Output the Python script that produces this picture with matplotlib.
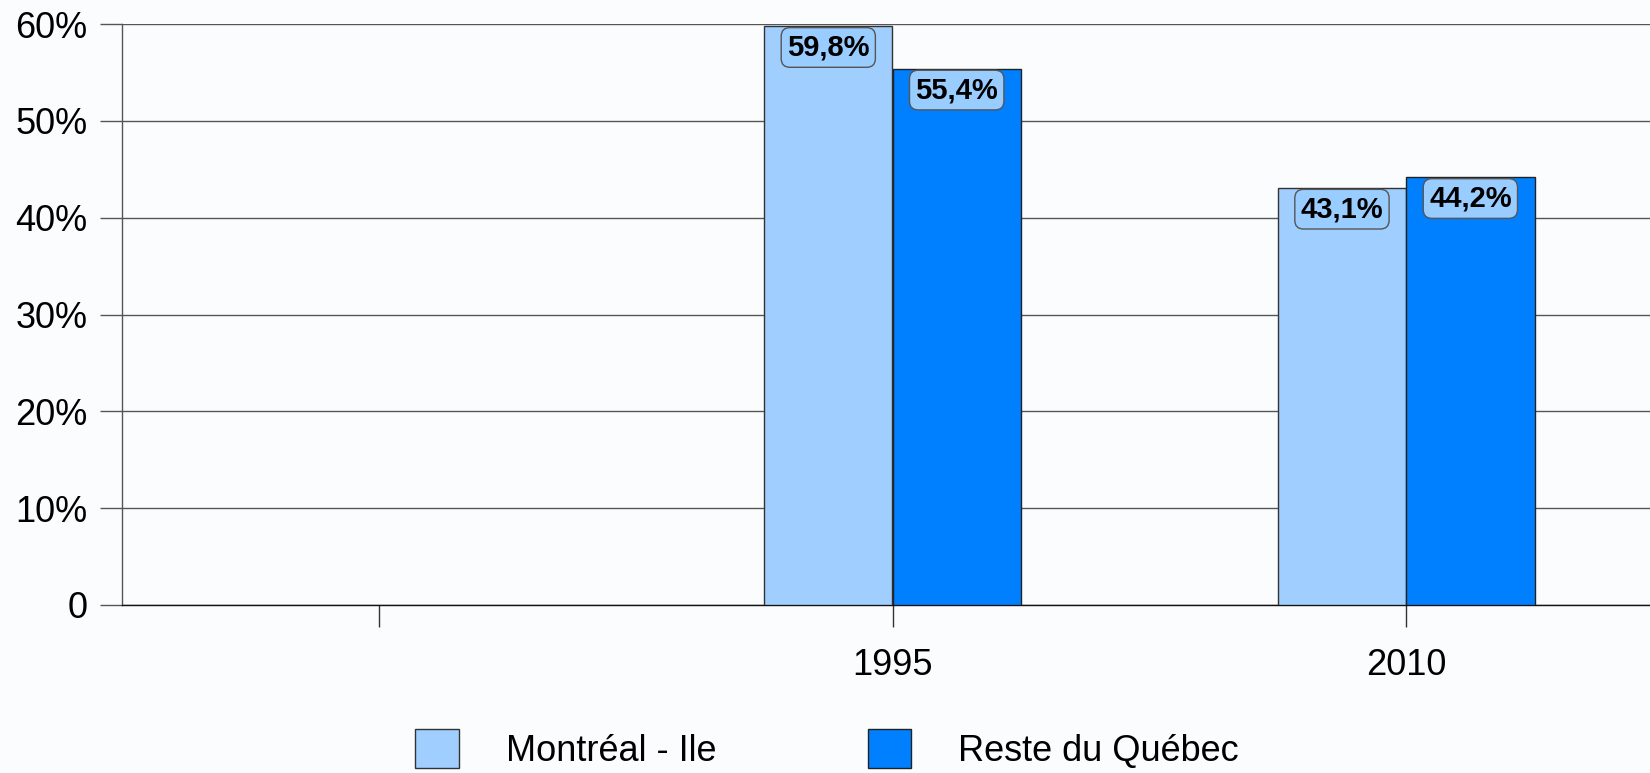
import matplotlib
matplotlib.use("Agg")
import matplotlib.pyplot as plt
import numpy as np

plt.rcParams['font.family'] = ['Liberation Sans', 'DejaVu Sans']

# Données (première catégorie vide dans l'original)
categories = ['', '1995', '2010']
montreal = [np.nan, 59.8, 43.1]
reste = [np.nan, 55.4, 44.2]
series_names = ['Montréal - Ile', 'Reste du Québec']
y_ticks = [0, 10, 20, 30, 40, 50, 60]
y_labels = ['0', '10%', '20%', '30%', '40%', '50%', '60%']

c_light = '#a0cfff'
c_dark = '#0080ff'
bg = '#fbfcfe'

fig = plt.figure(figsize=(16.5, 7.73), dpi=100, facecolor=bg)
ax = fig.add_axes([122 / 1650, 168 / 773, 1541 / 1650, 581 / 773])
ax.set_facecolor(bg)

x = np.arange(len(categories))
w = 0.25
b1 = ax.bar(x - w / 2, montreal, w, color=c_light, edgecolor='#333333', linewidth=1, zorder=3,
            label=series_names[0])
b2 = ax.bar(x + w / 2, reste, w, color=c_dark, edgecolor='#222222', linewidth=1, zorder=3,
            label=series_names[1])

# étiquettes de valeurs
for xs, vals in [(x - w / 2, montreal), (x + w / 2, reste)]:
    for xi, v in zip(xs, vals):
        if np.isnan(v):
            continue
        ax.annotate(f"{v:.1f}%".replace('.', ','), (xi, v), xytext=(0, -15.5),
                    textcoords='offset points', ha='center', va='center',
                    fontsize=21, fontweight='bold', zorder=5,
                    bbox=dict(boxstyle='round,pad=0.2,rounding_size=0.3',
                              facecolor='#99ccff', edgecolor='#555555', linewidth=1))

ax.set_xlim(-0.5, 2.5)
ax.set_ylim(0, 60)
ax.set_yticks(y_ticks)
ax.set_yticklabels(y_labels)
ax.set_xticks(x)
ax.set_xticklabels(categories)
ax.grid(axis='y', color='#555555', linewidth=1, zorder=0)
ax.tick_params(axis='y', length=16, width=1, color='#555555', pad=9, labelsize=26)
ax.tick_params(axis='x', length=16, width=1, color='#333333', pad=15, labelsize=26)

for s in ['top', 'right']:
    ax.spines[s].set_visible(False)
ax.spines['left'].set_color('#555555')
ax.spines['left'].set_linewidth(1)
ax.spines['bottom'].set_color('#111111')
ax.spines['bottom'].set_linewidth(1)

leg = fig.legend(handles=[b1, b2], labels=series_names, loc='center',
                 bbox_to_anchor=(827 / 1650, 24 / 773), ncol=2, frameon=False,
                 fontsize=26, handlelength=1.2, handleheight=1.3,
                 handletextpad=1.3, columnspacing=4.2, borderpad=0, borderaxespad=0)

fig.savefig('out.png', dpi=100, facecolor=bg)
